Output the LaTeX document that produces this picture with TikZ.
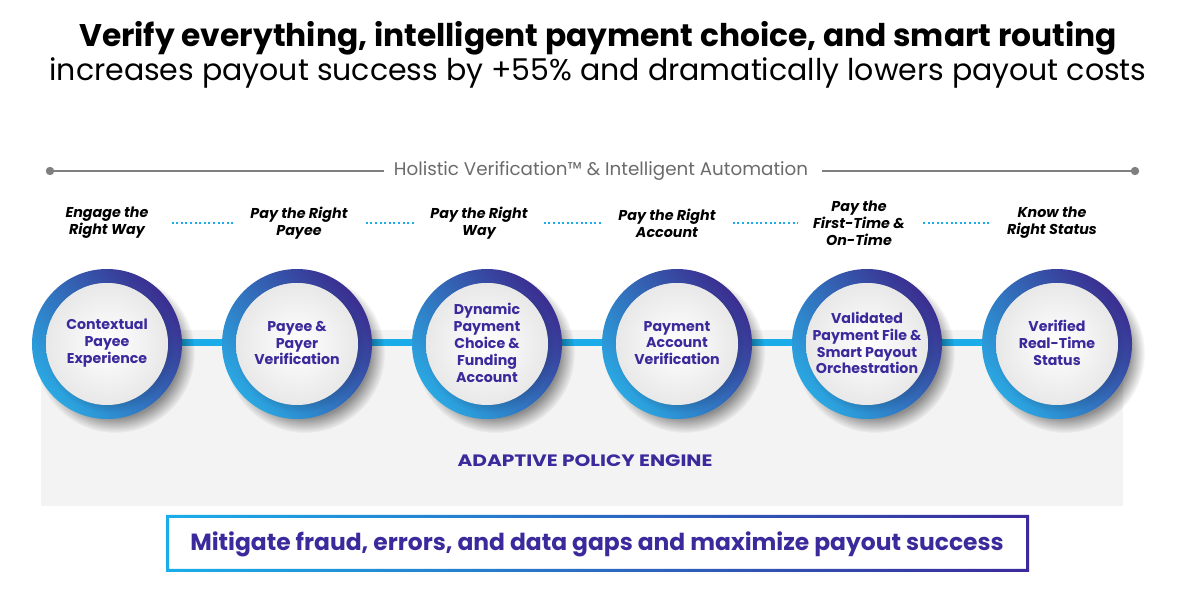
\documentclass[tikz,border=0pt]{standalone}
\usepackage{fontspec}
\usepackage{graphicx}
\setmainfont{Poppins}
\usetikzlibrary{fadings}
\definecolor{ink}{HTML}{3B2A9C}
\definecolor{cyanbar}{HTML}{1AADEA}
\definecolor{ringlight}{HTML}{2AA8E2}
\definecolor{ringdark}{HTML}{3B2E90}
\definecolor{panelgray}{HTML}{F3F3F3}
\definecolor{linegray}{HTML}{7F7F7F}
\definecolor{textgray}{HTML}{6B6B6B}
\definecolor{boxleft}{HTML}{1AADEA}
\definecolor{boxright}{HTML}{3B2A9C}
\pgfdeclarelayer{panel}
\pgfdeclarelayer{bars}
\pgfsetlayers{panel,bars,main}
\begin{document}
\begin{tikzpicture}[x=1pt,y=1pt,
  titlebold/.style={font=\fontsize{31.3}{36}\selectfont\bfseries, text=black, inner sep=0pt},
  titlereg/.style={font=\fontsize{30}{35}\selectfont, text=black, inner sep=0pt},
  holistic/.style={font=\fontsize{18.3}{22}\selectfont, text=textgray, inner sep=0pt},
  grayline/.style={linegray, line width=2.6pt},
  tag/.style={align=center, inner sep=0pt, font=\fontsize{14.3}{16.9}\selectfont\bfseries\itshape},
  dotline/.style={cyanbar, line width=2.2pt, dash pattern=on 2pt off 2.6pt},
  circtext/.style={circle, minimum size=122pt, inner sep=0pt, align=center, text=ink,
     font=\fontsize{14.2}{16.9}\selectfont\bfseries},
  bar/.style={cyanbar, line width=7pt},
  engine/.style={font=\fontsize{16.5}{19}\selectfont\bfseries, text=ink, inner sep=0pt},
  mitigate/.style={font=\fontsize{23.4}{27}\selectfont\bfseries, text=ink, inner sep=0pt},
]
\useasboundingbox (0,0) rectangle (1197,605);
\begin{pgfonlayer}{panel}
\fill[white] (0,0) rectangle (1197,605);
\fill[panelgray] (41,99) rectangle (1123,275);
\end{pgfonlayer}

% title
\node[titlebold] (t1) at (598,567) {Verify everything, intelligent payment choice, and smart routing};
\node[titlereg] (t2) at (598,532) {increases payout success by +55\% and dramatically lowers payout costs};

% holistic line
\coordinate (gl) at (50,434);
\coordinate (gr) at (1135,434);
\node[holistic] (h) at (601,434) {Holistic Verification™ \& Intelligent Automation};
\draw[grayline] (gl) -- ([xshift=-10pt]h.west);
\draw[grayline] ([xshift=14pt]h.east) -- (gr);
\fill[linegray] (gl) circle[radius=4.2];
\fill[linegray] (gr) circle[radius=4.2];

% tags
\node[tag] (l1) at (107,382) {Engage the\\Right Way};
\node[tag] (l2) at (299,382) {Pay the Right\\Payee};
\node[tag] (l3) at (479,382) {Pay the Right\\Way};
\node[tag] (l4) at (667,382) {Pay the Right\\Account};
\node[tag] (l5) at (859,382) {Pay the\\First-Time \&\\On-Time};
\node[tag] (l6) at (1052,382) {Know the\\Right Status};
\draw[dotline, shorten <=23pt, shorten >=15pt] (l1.east) -- (l2.west);
\draw[dotline, shorten <=18pt, shorten >=15pt] (l2.east) -- (l3.west);
\draw[dotline, shorten <=16pt, shorten >=17pt] (l3.east) -- (l4.west);
\draw[dotline, shorten <=17pt, shorten >=15pt] (l4.east) -- (l5.west);
\draw[dotline, shorten <=18pt, shorten >=16pt] (l5.east) -- (l6.west);

% circles
\foreach \cx in {107,297,487,677,867,1057} {
  \fill[black, opacity=0.42, path fading=circle with fuzzy edge 20 percent] (\cx+8,261-9) circle[radius=80];
  \shade[even odd rule, top color=ringdark, bottom color=ringlight, shading angle=-50]
     (\cx,261) circle[radius=75] (\cx,261) circle[radius=61];
  \fill[black, opacity=0.15, path fading=circle with fuzzy edge 20 percent] (\cx+3,261-4) circle[radius=65];
  \shade[inner color=white, outer color=black!9] (\cx,261) circle[radius=61];
}
\node[circtext] (c1) at (107,262) {Contextual\\Payee\\Experience};
\node[circtext] (c2) at (297,262) {Payee \&\\Payer\\Verification};
\node[circtext] (c3) at (487,262) {Dynamic\\Payment\\Choice \&\\Funding\\Account};
\node[circtext] (c4) at (677,262) {Payment\\Account\\Verification};
\node[circtext] (c5) at (867,262) {Validated\\Payment File \&\\Smart Payout\\Orchestration};
\node[circtext] (c6) at (1057,262) {Verified\\Real-Time\\Status};
\begin{pgfonlayer}{bars}
\draw[bar] (c1) -- (c2);
\draw[bar] (c2) -- (c3);
\draw[bar] (c3) -- (c4);
\draw[bar] (c4) -- (c5);
\draw[bar] (c5) -- (c6);
\end{pgfonlayer}

% engine
\node[engine] (e) at (585,144) {\scalebox{1.22}[1]{ADAPTIVE POLICY ENGINE}};

% bottom box
\shade[even odd rule, left color=boxleft, right color=boxright]
  (166,33) rectangle (1029,90) (169,36) rectangle (1026,87);
\node[mitigate] (m) at (597,61) {Mitigate fraud, errors, and data gaps and maximize payout success};
\end{tikzpicture}
\end{document}
